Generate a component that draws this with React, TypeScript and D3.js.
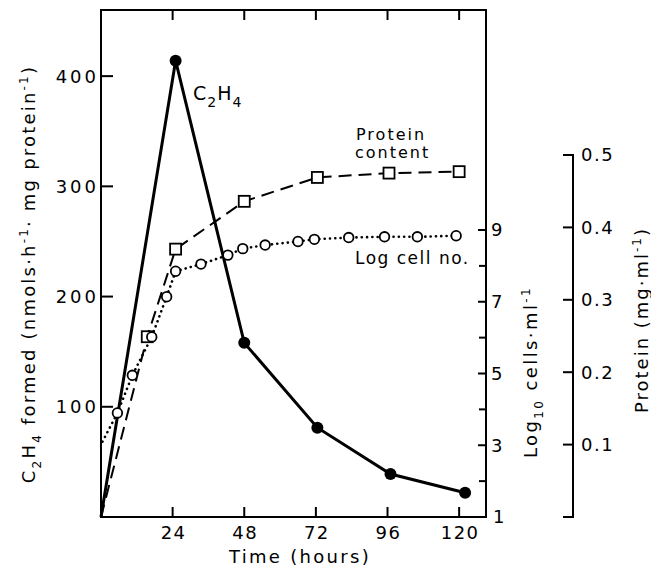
import React from "react";
import * as d3 from "d3";

// tick values
const timeTicks = [24, 48, 72, 96, 120];
const rateTicks = [100, 200, 300, 400];
const logTicks = [3, 5, 7, 9];
const logMinorTicks = [2, 4, 6, 8];
const proteinTicks = [0.1, 0.2, 0.3, 0.4];

// C2H4 formed (first point is the origin, no marker)
const ethyleneHours = [0, 25, 48, 72.5, 97, 122];
const ethyleneRate = [0, 414, 158, 81, 39, 22];

// protein content, mg/ml
const proteinHours = [0, 15.5, 25, 48, 72.5, 96.5, 120];
const proteinMg = [0, 0.249, 0.37, 0.436, 0.469, 0.475, 0.477];

// log10 cells/ml
const cellHours = [0.5, 5.5, 10.5, 17, 22, 25, 33.5, 42.5, 47.5, 55, 66, 71.5, 83, 95, 106, 119];
const cellLog = [3.1, 3.9, 4.95, 6.02, 7.14, 7.85, 8.05, 8.3, 8.48, 8.58, 8.68, 8.74, 8.79, 8.81, 8.81, 8.84];

const W = 651;
const H = 570;
const left = 101, right = 486, top = 10, bottom = 517;
const font = "DejaVu Sans";

// text with sub/superscripts: [text, shift] pairs, shift 0 = normal
function Rich({ parts, small = 12 }: { parts: [string, number][]; small?: number }) {
  let prev = 0;
  return (
    <>
      {parts.map(([s, shift], i) => {
        const dy = shift - prev;
        prev = shift;
        return (
          <tspan key={i} dy={dy || undefined} fontSize={shift ? small : undefined}>
            {s}
          </tspan>
        );
      })}
    </>
  );
}

export default function App() {
  const x = d3.scaleLinear().domain([0, 129]).range([left, right]);
  const yRate = d3.scaleLinear().domain([0, 460]).range([bottom, top]);
  const yLog = d3.scaleLinear().domain([1, 9]).range([bottom, 230]);
  const yProt = d3.scaleLinear().domain([0, 0.5]).range([bottom, 155]);
  const protX = 573;

  const ethylene = ethyleneHours.map((h, i) => [h, ethyleneRate[i]] as [number, number]);
  const protein = proteinHours.map((h, i) => [h, proteinMg[i]] as [number, number]);
  const cells = cellHours.map((h, i) => [h, cellLog[i]] as [number, number]);

  const ethLine = d3.line<[number, number]>().x((d) => x(d[0])).y((d) => yRate(d[1]));
  const protLine = d3.line<[number, number]>().x((d) => x(d[0])).y((d) => yProt(d[1]));
  const cellLine = d3.line<[number, number]>().x((d) => x(d[0])).y((d) => yLog(d[1]));

  return (
    <svg
      width={W}
      height={H}
      style={{ position: "absolute", left: 0, top: 0, background: "white" }}
      fontFamily={font}
      fill="black"
    >
      {/* frame */}
      <rect x={left} y={top} width={right - left} height={bottom - top} fill="none" stroke="black" strokeWidth={2} />

      {/* time ticks, bottom and top */}
      {timeTicks.map((t) => (
        <g key={t}>
          <line x1={x(t)} x2={x(t)} y1={bottom} y2={bottom - 10} stroke="black" strokeWidth={2} />
          <line x1={x(t)} x2={x(t)} y1={top} y2={top + 10} stroke="black" strokeWidth={2} />
          <text x={x(t) + 1} y={538.5} textAnchor="middle" fontSize={18} letterSpacing={1.5}>
            {t}
          </text>
        </g>
      ))}
      <text x={300} y={563} textAnchor="middle" fontSize={18} letterSpacing={2.3}>
        Time (hours)
      </text>

      {/* left axis */}
      {rateTicks.map((t) => (
        <g key={t}>
          <line x1={left} x2={left + 12} y1={yRate(t)} y2={yRate(t)} stroke="black" strokeWidth={2} />
          <text x={99} y={yRate(t)} dy="0.36em" textAnchor="end" fontSize={18} letterSpacing={3}>
            {t}
          </text>
        </g>
      ))}
      <text transform="translate(35,274) rotate(-90)" textAnchor="middle" fontSize={18} letterSpacing={2.2}>
        <Rich
          parts={[
            ["C", 0],
            ["2", 6],
            ["H", 0],
            ["4", 6],
            [" formed (nmols·h", 0],
            ["-1", -7],
            ["· mg protein", 0],
            ["-1", -7],
            [")", 0],
          ]}
        />
      </text>

      {/* log cells axis on the frame's right edge */}
      {logTicks.map((t) => (
        <g key={t}>
          <line x1={right} x2={right - 8} y1={yLog(t)} y2={yLog(t)} stroke="black" strokeWidth={2} />
          <text x={491} y={yLog(t)} dy="0.36em" fontSize={18}>
            {t}
          </text>
        </g>
      ))}
      {logMinorTicks.map((t) => (
        <line key={t} x1={right} x2={right - 7} y1={yLog(t)} y2={yLog(t)} stroke="black" strokeWidth={2} />
      ))}
      <text x={493} y={yLog(1)} dy="0.36em" fontSize={18}>
        1
      </text>
      <text transform="translate(537,372) rotate(-90)" textAnchor="middle" fontSize={18} letterSpacing={2.4}>
        <Rich
          parts={[
            ["Log", 0],
            ["10", 6],
            [" cells·ml", 0],
            ["-1", -7],
          ]}
        />
      </text>

      {/* protein axis */}
      <path
        d={`M${protX - 10},${yProt(0.5)}H${protX}V${yProt(0)}H${protX - 10}`}
        fill="none"
        stroke="black"
        strokeWidth={2}
      />
      {proteinTicks.map((t) => (
        <line key={t} x1={protX} x2={protX - 10} y1={yProt(t)} y2={yProt(t)} stroke="black" strokeWidth={2} />
      ))}
      {[...proteinTicks, 0.5].map((t) => (
        <text key={t} x={581} y={yProt(t)} dy="0.36em" fontSize={18} letterSpacing={1.5}>
          {d3.format(".1f")(t)}
        </text>
      ))}
      <text transform="translate(648,320) rotate(-90)" textAnchor="middle" fontSize={18} letterSpacing={2}>
        <Rich
          parts={[
            ["Protein (mg·ml", 0],
            ["-1", -7],
            [")", 0],
          ]}
        />
      </text>

      {/* series */}
      <path d={protLine(protein) || ""} fill="none" stroke="black" strokeWidth={2} strokeDasharray="13 7" />
      <path
        d={cellLine(cells) || ""}
        fill="none"
        stroke="black"
        strokeWidth={2.6}
        strokeDasharray="0.1 5.2"
        strokeLinecap="round"
      />
      <path d={ethLine(ethylene) || ""} fill="none" stroke="black" strokeWidth={3} />

      {protein.slice(1).map((d, i) => (
        <rect
          key={i}
          x={x(d[0]) - 5.5}
          y={yProt(d[1]) - 5.5}
          width={11}
          height={11}
          fill="white"
          stroke="black"
          strokeWidth={1.8}
        />
      ))}
      {cells.slice(1).map((d, i) => (
        <circle key={i} cx={x(d[0])} cy={yLog(d[1])} r={4.8} fill="white" stroke="black" strokeWidth={1.8} />
      ))}
      {ethylene.slice(1).map((d, i) => (
        <circle key={i} cx={x(d[0])} cy={yRate(d[1])} r={6} fill="black" />
      ))}

      {/* annotations */}
      <text x={193} y={100} fontSize={19} letterSpacing={1}>
        <Rich
          parts={[
            ["C", 0],
            ["2", 7],
            ["H", 0],
            ["4", 7],
          ]}
          small={14}
        />
      </text>
      <text x={356} y={140} fontSize={16} letterSpacing={2}>
        Protein
      </text>
      <text x={355} y={158} fontSize={16} letterSpacing={2}>
        content
      </text>
      <text x={355} y={264} fontSize={17} letterSpacing={1.5}>
        Log cell no.
      </text>
    </svg>
  );
}
